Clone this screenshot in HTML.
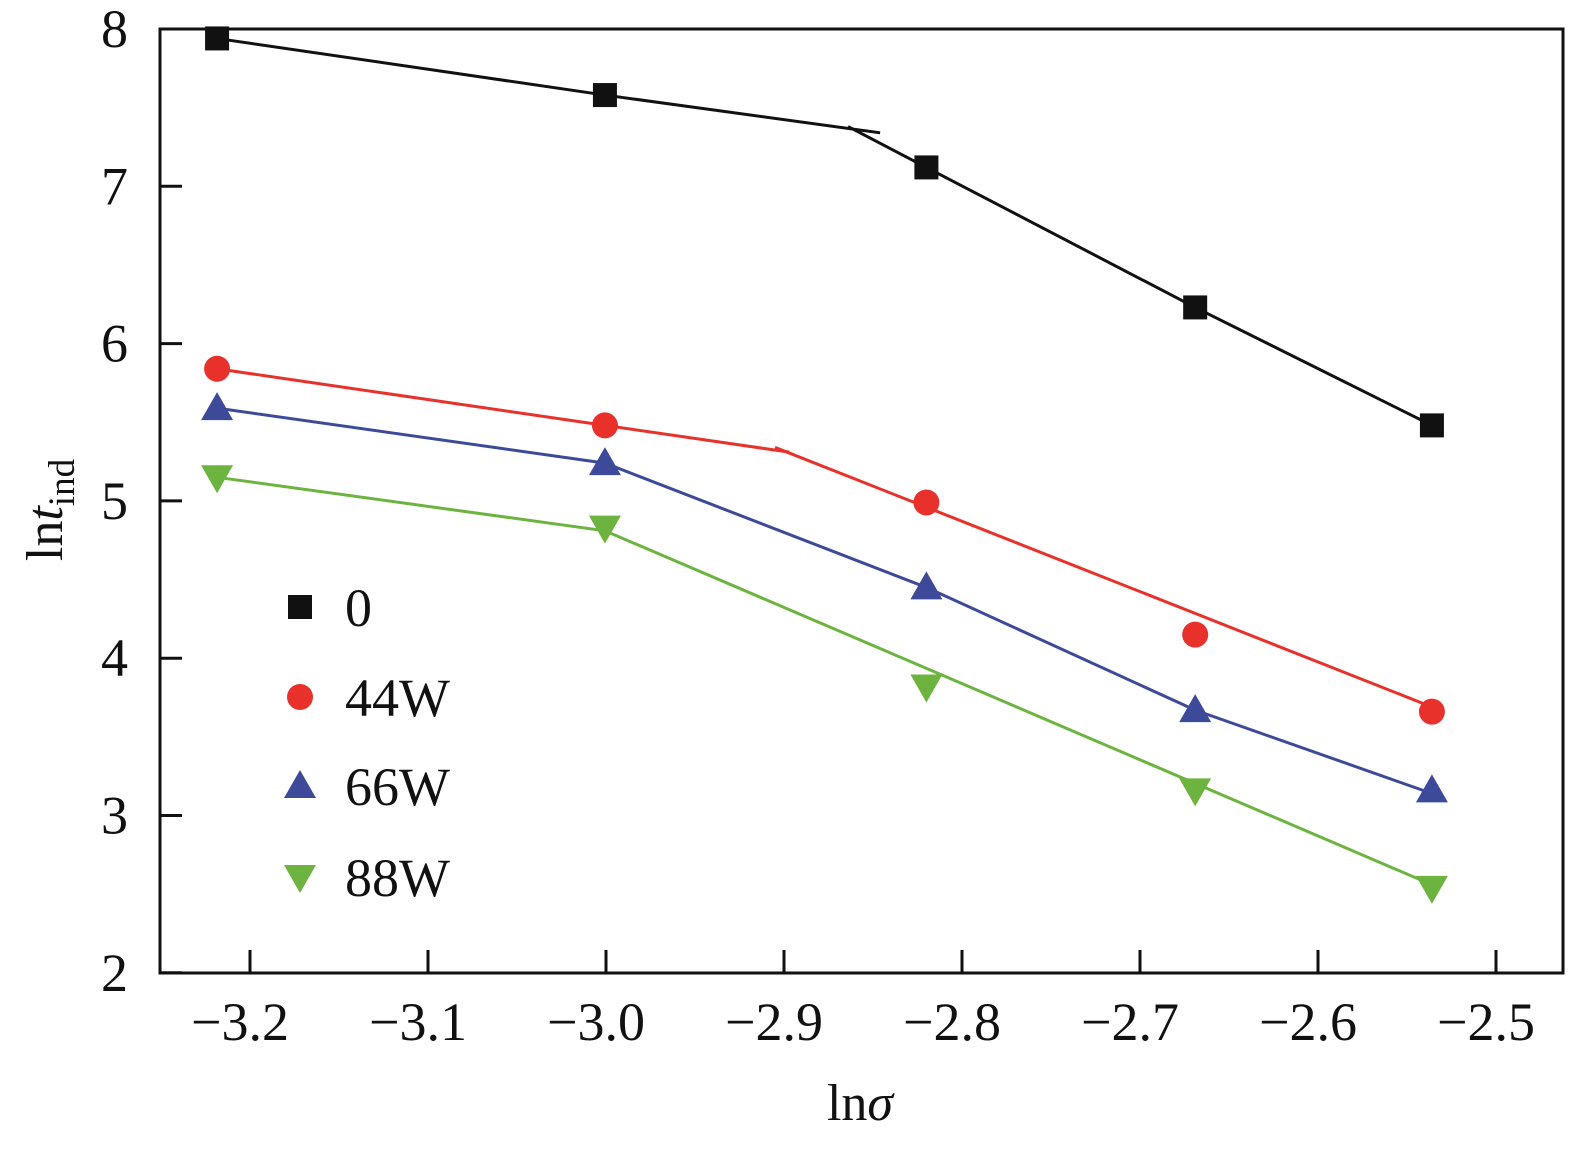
<!DOCTYPE html>
<html><head><meta charset="utf-8"><style>
body{margin:0;background:#fff;}
svg text{font-family:"Liberation Serif",serif;fill:#111;}
</style></head><body>
<svg id="chart" width="1589" height="1157" viewBox="0 0 1589 1157" xmlns="http://www.w3.org/2000/svg">
<g id="axes"></g><g id="lines"></g><g id="marks"></g><g id="legend"></g>
</svg>
<script>
const xTicks=[-3.2,-3.1,-3.0,-2.9,-2.8,-2.7,-2.6,-2.5];
const xTickLabels=["\u22123.2","\u22123.1","\u22123.0","\u22122.9","\u22122.8","\u22122.7","\u22122.6","\u22122.5"];
const yTicks=[2,3,4,5,6,7,8];
const xValues=[-3.2185,-3.0006,-2.82,-2.669,-2.536];
const s0=[7.94,7.58,7.12,6.23,5.48];
const s44=[5.84,5.48,4.99,4.15,3.66];
const s66=[5.59,5.24,4.45,3.67,3.16];
const s88=[5.15,4.83,3.82,3.16,2.54];
const fit0a=[[-3.2185,7.94],[-3.0006,7.58],[-2.846,7.34]];
const fit0b=[[-2.864,7.38],[-2.82,7.12],[-2.669,6.23],[-2.536,5.48]];
const fit44a=[[-3.2185,5.84],[-3.0006,5.48],[-2.897,5.31]];
const fit44b=[[-2.905,5.34],[-2.536,3.69]];
const fit66=[[-3.2185,5.59],[-3.0006,5.24],[-2.82,4.45],[-2.669,3.67],[-2.536,3.14]];
const fit88=[[-3.2185,5.15],[-3.0006,4.81],[-2.536,2.56]];
const seriesNames=["0","44W","66W","88W"];

const X=v=>250+(v+3.2)*1780;
const Y=v=>29+(8-v)*157.3;
const NS="http://www.w3.org/2000/svg";
function mk(tag,attrs,parent){const e=document.createElementNS(NS,tag);for(const k in attrs)e.setAttribute(k,attrs[k]);parent.appendChild(e);return e;}
const axes=document.getElementById('axes'),lines=document.getElementById('lines'),marks=document.getElementById('marks'),legend=document.getElementById('legend');
const frame=mk('rect',{x:160,y:29,width:1403,height:944,fill:'none',stroke:'#111','stroke-width':3},axes);


xTicks.forEach((t,i)=>{
 const tk=mk('line',{x1:X(t),x2:X(t),y1:973,y2:950,stroke:'#111','stroke-width':3},axes);
 
 
 const tx=mk('text',{x:X(t)-10,y:1040,'font-size':54,'text-anchor':'middle'},axes);tx.textContent=xTickLabels[i];
 
 
});
yTicks.forEach(t=>{
 const tk=mk('line',{x1:160,x2:182,y1:Y(t),y2:Y(t),stroke:'#111','stroke-width':3},axes);
 
 
 const tx=mk('text',{x:128,y:Y(t)+18,'font-size':54,'text-anchor':'end'},axes);tx.textContent=t;
 
 
});
const xt=mk('text',{x:860,y:1120,'font-size':52,'text-anchor':'middle'},axes);
xt.innerHTML='ln<tspan font-style="italic">σ</tspan>';


const yt=mk('text',{x:0,y:0,'font-size':52,'text-anchor':'middle',transform:'translate(62,510) rotate(-90)'},axes);
yt.innerHTML='ln<tspan font-style="italic">t</tspan><tspan font-size="37" dy="12">ind</tspan>';



const colors=['#111111','#e8312b','#3d4a9a','#6db33f'];
function poly(pts,c,name){const p=mk('polyline',{points:pts.map(q=>X(q[0])+','+Y(q[1])).join(' '),fill:'none',stroke:c,'stroke-width':3},lines);
 
 }
poly(fit0a,colors[0],'fit-line-0-a');poly(fit0b,colors[0],'fit-line-0-b');
poly(fit44a,colors[1],'fit-line-44w-a');poly(fit44b,colors[1],'fit-line-44w-b');
poly(fit66,colors[2],'fit-line-66w');poly(fit88,colors[3],'fit-line-88w');

function marker(type,cx,cy,c,parent){
 if(type===0)return mk('rect',{x:cx-12,y:cy-12,width:24,height:24,fill:c},parent);
 if(type===1)return mk('circle',{cx:cx,cy:cy,r:13,fill:c},parent);
 if(type===2)return mk('polygon',{points:`${cx},${cy-16} ${cx-16},${cy+12} ${cx+16},${cy+12}`,fill:c},parent);
 return mk('polygon',{points:`${cx},${cy+16} ${cx-16},${cy-12} ${cx+16},${cy-12}`,fill:c},parent);
}
[s0,s44,s66,s88].forEach((s,k)=>{
 s.forEach((v,i)=>{const m=marker(k,X(xValues[i]),Y(v),colors[k],marks);
  
  });
});
const ly=[607,697,786,877];
seriesNames.forEach((n,k)=>{
 const g=mk('g',{},legend);
 
 
 marker(k,300,ly[k],colors[k],g);
 const t=mk('text',{x:345,y:ly[k]+19,'font-size':54},g);t.textContent=n;
});
</script>
</body></html>
